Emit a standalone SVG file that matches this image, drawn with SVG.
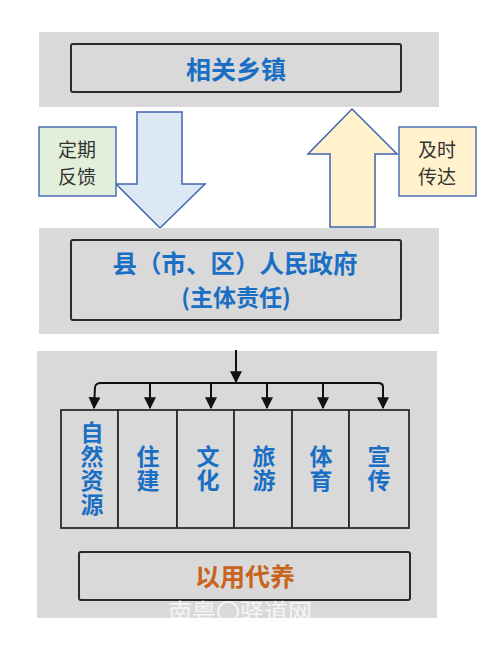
<svg xmlns="http://www.w3.org/2000/svg" width="500" height="645" viewBox="0 0 500 645">
<defs>
<style>
.band{fill:#d9d9d9}
.box{fill:#d9d9d9;stroke:#2b2b2b;stroke-width:2}
.col{fill:#d9d9d9;stroke:#2b2b2b;stroke-width:1.8}
.blue{font-family:"Noto Sans CJK SC","Liberation Sans",sans-serif;font-weight:bold;fill:#1a6fc4;text-anchor:middle}
.vert{font-family:"Noto Sans CJK SC","Liberation Sans",sans-serif;font-weight:bold;fill:#1a6fc4;font-size:23px;writing-mode:vertical-rl;text-orientation:upright;letter-spacing:1px}
.orange{font-family:"Noto Sans CJK SC","Liberation Sans",sans-serif;font-weight:bold;fill:#c8641e;text-anchor:middle}
.lbl{font-family:"Noto Sans CJK SC","Liberation Sans",sans-serif;fill:#333;text-anchor:middle;font-size:19px}
.conn{fill:none;stroke:#111;stroke-width:2}
.wm{font-family:"Noto Sans CJK SC","Liberation Sans",sans-serif;fill:#ffffff;opacity:0.75;font-size:24px;text-anchor:middle}
</style>
<marker id="ah" viewBox="0 0 10 10" refX="9" refY="5" markerWidth="6" markerHeight="6" orient="auto" markerUnits="strokeWidth">
<path d="M0,0 L10,5 L0,10 z" fill="#111"/>
</marker>
</defs>
<rect width="500" height="645" fill="#ffffff"/>

<g id="town">
<rect class="band" x="39" y="32" width="400" height="75"/>
<rect class="box" x="71" y="44" width="330" height="48" rx="2"/>
<text class="blue" x="236" y="79" font-size="25">相关乡镇</text>
</g>

<g id="feedback-arrow">
<polygon points="137,112 182,112 182,184 205,184 160,228 116,184 137,184" fill="#dde8f5" stroke="#3d64ad" stroke-width="1.5"/>
</g>
<g id="feedback-label">
<rect x="39" y="127" width="77" height="69" fill="#e2efda" stroke="#4a6fb5" stroke-width="1.5"/>
<text class="lbl" x="77" y="157">定期</text>
<text class="lbl" x="77" y="184">反馈</text>
</g>

<g id="convey-arrow">
<polygon points="352,109 397,154 375,154 375,227 330,227 330,154 308,154" fill="#fff2cc" stroke="#3d64ad" stroke-width="1.5"/>
</g>
<g id="convey-label">
<rect x="399" y="127" width="77" height="69" fill="#fff2cc" stroke="#4a6fb5" stroke-width="1.5"/>
<text class="lbl" x="437" y="157">及时</text>
<text class="lbl" x="437" y="184">传达</text>
</g>

<g id="government">
<rect class="band" x="39" y="228" width="400" height="106"/>
<rect class="box" x="71" y="240" width="330" height="80" rx="2"/>
<text class="blue" x="235" y="273" font-size="24.5">县（市、区）人民政府</text>
<text class="blue" x="236" y="306" font-size="23">(主体责任)</text>
</g>

<g id="departments-band">
<rect class="band" x="37" y="351" width="400" height="267"/>
</g>

<g id="connectors">
<line class="conn" x1="236" y1="350" x2="236" y2="382" marker-end="url(#ah)"/>
<path class="conn" d="M95,387 Q96,383 101,383 L378,383 Q383,383 383,387"/>
<line class="conn" x1="95" y1="387" x2="94" y2="408" marker-end="url(#ah)"/>
<line class="conn" x1="150" y1="383" x2="150" y2="408" marker-end="url(#ah)"/>
<line class="conn" x1="211" y1="383" x2="211" y2="408" marker-end="url(#ah)"/>
<line class="conn" x1="267" y1="383" x2="267" y2="408" marker-end="url(#ah)"/>
<line class="conn" x1="323" y1="383" x2="323" y2="408" marker-end="url(#ah)"/>
<line class="conn" x1="383" y1="386" x2="383" y2="408" marker-end="url(#ah)"/>
</g>

<g id="dept-natural">
<rect class="col" x="61" y="410" width="57" height="118"/>
<text class="vert" x="92" y="421">自然资源</text>
</g>
<g id="dept-housing">
<rect class="col" x="118" y="410" width="59" height="118"/>
<text class="vert" x="148" y="445">住建</text>
</g>
<g id="dept-culture">
<rect class="col" x="177" y="410" width="57" height="118"/>
<text class="vert" x="208" y="445">文化</text>
</g>
<g id="dept-tourism">
<rect class="col" x="234" y="410" width="58" height="118"/>
<text class="vert" x="264" y="445">旅游</text>
</g>
<g id="dept-sports">
<rect class="col" x="292" y="410" width="57" height="118"/>
<text class="vert" x="321" y="445">体育</text>
</g>
<g id="dept-publicity">
<rect class="col" x="349" y="410" width="60" height="118"/>
<text class="vert" x="379" y="445">宣传</text>
</g>

<g id="yiyongdaiyang">
<rect class="box" x="79" y="552" width="331" height="48" rx="2"/>
<text class="orange" x="245" y="586" font-size="25">以用代养</text>
</g>

<text class="wm" x="240" y="621">南粤〇驿道网</text>
</svg>
